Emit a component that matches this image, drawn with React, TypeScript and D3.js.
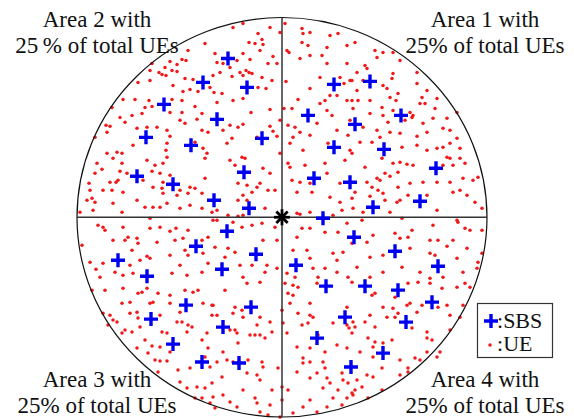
import * as d3 from "d3";

// chart box and cell extent (units, centre = 0,0)
const width = 574;
const height = 419;
const X_EXTENT = 205;
const Y_EXTENT = 200;

// small base stations, one list per area
const sbsArea1: [number, number][] = [
  [52, 133], [88, 136], [26, 102], [119, 102], [73, 93], [52, 70], [102, 68],
  [154, 49], [32, 39], [68, 35], [138, 16], [91, 10], [41, -1],
];
const sbsArea2: [number, number][] = [
  [-54, 159], [-79, 135], [-35, 130], [-118, 113], [-65, 98], [-136, 80], [-20, 79],
  [-91, 72], [-145, 41], [-109, 33], [-38, 45], [-68, 17], [-33, 9],
];
const sbsArea3: [number, number][] = [
  [-86, -29], [-55, -14], [-164, -43], [-26, -37], [-60, -52], [-135, -59], [-96, -88],
  [-31, -90], [-131, -102], [-59, -110], [-109, -127], [-43, -146], [-80, -145],
];
const sbsArea4: [number, number][] = [
  [14, -48], [72, -20], [113, -34], [156, -49], [44, -69], [83, -69], [116, -73],
  [150, -85], [63, -100], [124, -105], [35, -121], [101, -136], [69, -150],
];

// user equipment, read region by region
const ueNW: [number, number][] = [
  [-77, 174], [-94, 167], [-112, 156], [-100, 158], [-96, 157], [-105, 153], [-130, 154],
  [-117, 150], [-110, 147], [-105, 146], [-132, 147], [-123, 145], [-120, 143], [-116, 142],
  [-97, 139], [-144, 135], [-132, 137], [-89, 138], [-109, 132], [-99, 126], [-92, 128],
  [-84, 126], [-72, 130], [-159, 118], [-147, 118], [-133, 117], [-110, 118], [-100, 117],
  [-87, 111], [-137, 110], [-130, 111], [-170, 110], [-140, 104], [-150, 102], [-112, 105],
  [-100, 105], [-80, 104], [-162, 100], [-157, 95], [-176, 92], [-172, 91], [-125, 90],
  [-102, 97], [-97, 94], [-85, 98], [-135, 90], [-175, 85], [-145, 89], [-115, 87],
  [-80, 87], [-74, 85], [-187, 80], [-112, 81],
];
const ueN: [number, number][] = [
  [-49, 190], [-39, 194], [-12, 190], [-2, 185], [-24, 184], [-33, 175], [-27, 174],
  [-20, 178], [-19, 173], [-39, 164], [-67, 164], [-45, 157], [-32, 158], [-22, 167],
  [-9, 161], [-14, 154], [-5, 154], [-65, 155], [-59, 154], [-52, 150], [-62, 145],
  [-69, 142], [-42, 145], [-36, 147], [-33, 145], [-30, 144], [-39, 142], [-50, 141],
  [-20, 140], [-10, 137], [-60, 124], [-68, 125], [-24, 130], [-16, 129], [-31, 105],
  [-12, 108], [-49, 117], [-39, 119], [-65, 115], [-52, 92], [-39, 93], [-44, 90],
  [-59, 87], [-12, 91], [-9, 86], [-25, 80], [-50, 79], [-2, 97], [-5, 81],
  [3, 194], [20, 189], [21, 184], [28, 185], [20, 175], [26, 172], [48, 182],
  [56, 184], [45, 170], [65, 172], [5, 167], [7, 165], [28, 162], [40, 162],
  [18, 159], [45, 154], [65, 154], [38, 140], [58, 140], [68, 137], [62, 134],
  [4, 136], [28, 129], [48, 122], [43, 117], [55, 122], [16, 118], [2, 109],
  [10, 109], [38, 114], [45, 107], [50, 102], [65, 117], [71, 109], [68, 97],
  [6, 92], [13, 90], [18, 85], [35, 94], [55, 87], [66, 82], [28, 82], [11, 80],
];
const ueNE: [number, number][] = [
  [73, 175], [93, 167], [101, 165], [111, 165], [95, 160], [118, 157], [83, 152],
  [85, 149], [75, 145], [111, 144], [135, 145], [70, 137], [81, 137], [110, 139],
  [101, 132], [135, 134], [116, 124], [145, 127], [105, 129], [75, 127], [70, 117],
  [108, 120], [114, 117], [140, 120], [155, 119], [100, 110], [138, 114], [143, 114],
  [153, 109], [128, 105], [131, 102], [101, 102], [88, 104], [111, 107], [123, 97],
  [130, 100], [151, 99], [165, 99], [175, 105], [106, 95], [141, 94], [161, 89],
  [168, 87], [81, 90], [95, 87], [108, 85], [118, 84], [135, 81], [145, 85],
  [98, 80], [175, 79], [76, 117], [88, 117],
];
const ueW: [number, number][] = [
  [-149, 72], [-115, 74], [-87, 75], [-79, 69], [-75, 64], [-77, 59], [-116, 67],
  [-115, 60], [-175, 64], [-165, 65], [-160, 64], [-169, 59], [-185, 54], [-160, 54],
  [-135, 57], [-127, 52], [-119, 54], [-180, 48], [-130, 46], [-122, 44], [-187, 44],
  [-162, 46], [-155, 44], [-172, 35], [-193, 34], [-166, 35], [-164, 37], [-139, 37],
  [-119, 35], [-112, 42], [-77, 39], [-92, 30], [-87, 29], [-102, 27], [-192, 27],
  [-179, 27], [-170, 27], [-159, 25], [-129, 30], [-120, 29], [-119, 24], [-105, 22],
  [-94, 24], [-80, 24], [-195, 17], [-187, 15], [-190, 19], [-169, 14], [-137, 10],
  [-129, 10], [-122, 10], [-115, 14], [-102, 9], [-92, 12], [-80, 9], [-202, 5],
  [-189, 7], [-160, 5], [-145, 17],
  [-184, -8], [-179, -10], [-132, -1], [-177, -13], [-159, -10], [-132, -11], [-122, -10],
  [-112, -14], [-106, -11], [-94, -13], [-154, -20], [-169, -23], [-157, -23], [-145, -21],
  [-144, -26], [-125, -25], [-107, -23], [-99, -21], [-80, -23], [-74, -20], [-200, -28],
  [-150, -33], [-135, -39], [-132, -41], [-142, -43], [-112, -38], [-97, -33], [-94, -38],
  [-79, -36], [-192, -45], [-179, -46], [-152, -48], [-102, -48], [-74, -46], [-167, -55],
  [-159, -58], [-149, -56], [-110, -56], [-186, -52], [-182, -60], [-95, -58], [-80, -55],
];
const ueC: [number, number][] = [
  [-55, 74], [-52, 57], [-47, 52], [-40, 60], [-37, 59], [-19, 49], [-12, 44],
  [-22, 34], [-25, 30], [-35, 32], [-30, 25], [-44, 34], [-44, 17], [-35, 17],
  [-7, 27], [-14, 27], [-39, 22], [-70, 5], [-65, 7], [-54, 2], [-44, 1],
  [-39, 2], [-17, 9], [-30, -8], [-40, -10], [-69, -3], [-65, -3], [-49, -5],
  [-20, -6], [-7, -10], [-67, -30], [-54, -31], [-57, -40], [-47, -35], [-42, -48],
  [-30, -48], [-15, -48], [-17, -55], [-5, -51], [-39, -60], [-5, -23], [-19, -23],
  [-2, 64], [0, 0],
  [8, 74], [21, 67], [6, 54], [8, 50], [23, 52], [43, 54], [46, 74],
  [63, 57], [68, 67], [10, 37], [18, 35], [28, 34], [45, 44], [58, 34],
  [15, 25], [30, 25], [48, 20], [58, 15], [15, 4], [18, 3], [28, 5],
  [60, 7], [51, 2], [65, -6], [20, -11], [28, -11], [43, -15], [56, -15],
  [15, -20], [11, -33], [25, -33], [28, -41], [51, -36], [55, -43], [61, -35],
  [31, -51], [43, -51], [55, -55], [66, -60], [36, -60], [13, -60], [5, -56],
];
const ueE: [number, number][] = [
  [78, 75], [90, 75], [120, 70], [135, 72], [155, 69], [161, 70], [168, 74],
  [178, 69], [70, 64], [100, 59], [111, 54], [118, 55], [125, 53], [131, 52],
  [145, 67], [165, 60], [168, 59], [178, 59], [183, 54], [171, 52], [161, 52],
  [83, 50], [103, 44], [95, 39], [98, 37], [108, 41], [116, 45], [141, 35],
  [155, 35], [168, 35], [181, 39], [191, 37], [196, 40], [73, 25], [85, 35],
  [90, 30], [128, 34], [116, 30], [96, 27], [101, 24], [103, 17], [108, 5],
  [115, 15], [118, 17], [88, 21], [126, 22], [145, 22], [171, 25], [178, 27],
  [185, 22], [193, 15], [155, 7], [200, 9], [81, 5], [71, 9], [70, 19],
  [80, -3], [120, -1], [175, -3], [176, -5], [183, -11], [188, -13], [200, -13],
  [151, -8], [130, -13], [91, -18], [113, -16], [118, -21], [126, -20], [148, -23],
  [156, -23], [171, -23], [165, -29], [185, -31], [200, -36], [85, -25], [70, -26],
  [88, -40], [101, -38], [128, -31], [148, -36], [153, -38], [175, -41], [181, -55],
  [195, -51], [196, -45], [120, -50], [101, -55], [75, -50], [88, -60], [138, -55],
  [161, -60], [148, -61],
];
const ueSW: [number, number][] = [
  [-190, -73], [-177, -73], [-159, -71], [-144, -76], [-140, -75], [-135, -71], [-124, -76],
  [-112, -78], [-97, -73], [-89, -75], [-84, -73], [-112, -86], [-79, -86], [-70, -88],
  [-160, -86], [-152, -85], [-132, -86], [-129, -85], [-102, -95], [-179, -96], [-172, -98],
  [-152, -96], [-144, -101], [-145, -95], [-169, -103], [-165, -105], [-174, -108], [-160, -116],
  [-157, -113], [-150, -115], [-142, -110], [-122, -98], [-105, -105], [-100, -105], [-94, -108],
  [-90, -110], [-120, -115], [-115, -116], [-95, -115], [-75, -116], [-137, -123], [-122, -130],
  [-130, -129], [-112, -135], [-80, -123], [-145, -131], [-134, -136], [-74, -131], [-77, -140],
  [-127, -143], [-122, -144], [-115, -144], [-104, -153], [-124, -155], [-72, -150], [-92, -151],
  [-102, -165], [-95, -171], [-85, -170], [-77, -171], [-70, -166], [-80, -181], [-72, -186],
  [-87, -181],
];
const ueS: [number, number][] = [
  [-57, -73], [-35, -66], [-22, -65], [-69, -88], [-47, -90], [-40, -93], [-49, -96],
  [-39, -100], [-22, -100], [-70, -98], [-65, -98], [-12, -105], [-25, -108], [-52, -113],
  [-47, -113], [-45, -116], [-32, -118], [-27, -118], [-22, -118], [-10, -115], [-17, -121],
  [1, -106], [-44, -126], [-59, -135], [-65, -145], [-55, -143], [-49, -145], [-34, -143],
  [-20, -145], [-19, -150], [-4, -151], [-35, -156], [-25, -158], [-22, -163], [-60, -160],
  [-69, -180], [-59, -178], [-39, -173], [-27, -181], [-10, -173], [-25, -186], [-12, -188],
  [-67, -191], [-45, -190], [-22, -195], [-14, -198], [0, -183], [0, -170], [-2, -200],
  [0, -93], [-52, -185],
  [3, -66], [11, -68], [16, -70], [35, -66], [6, -76], [11, -78], [8, -86],
  [28, -86], [65, -90], [16, -96], [28, -98], [31, -100], [20, -108], [26, -106],
  [51, -106], [65, -108], [67, -111], [5, -116], [36, -118], [15, -130], [28, -131],
  [55, -128], [43, -135], [65, -131], [21, -141], [21, -146], [28, -145], [41, -145],
  [43, -151], [15, -155], [35, -156], [60, -156], [61, -163], [66, -166], [28, -161],
  [45, -161], [48, -166], [41, -171], [51, -181], [45, -190], [60, -188], [28, -183],
  [6, -173], [21, -190], [11, -196], [35, -195], [65, -181], [71, -178], [56, -173],
];
const ueSE: [number, number][] = [
  [70, -65], [90, -78], [93, -76], [113, -80], [126, -66], [136, -65], [148, -66],
  [160, -71], [175, -70], [183, -66], [188, -70], [125, -88], [128, -86], [135, -95],
  [140, -88], [156, -90], [165, -88], [168, -98], [181, -88], [178, -100], [101, -90],
  [111, -91], [116, -96], [105, -100], [113, -100], [88, -98], [83, -105], [71, -105],
  [73, -110], [70, -116], [93, -110], [130, -111], [145, -115], [145, -121], [150, -123],
  [168, -113], [158, -135], [155, -140], [86, -121], [93, -125], [91, -130], [101, -126],
  [110, -123], [78, -135], [91, -140], [100, -151], [118, -143], [126, -151], [133, -141],
  [138, -143], [145, -135], [118, -158], [126, -155], [85, -158], [91, -160], [75, -163],
  [80, -170], [70, -176], [73, -173], [100, -173], [86, -181],
];

const areaLabels = [
  { line1: "Area 1 with", line2: "25% of total UEs", cx: 485, top: true },
  { line1: "Area 2 with", line2: "25\u2009% of total UEs", cx: 97, top: true },
  { line1: "Area 3 with", line2: "25% of total UEs", cx: 97, top: false },
  { line1: "Area 4 with", line2: "25% of total UEs", cx: 485, top: false },
];

const legendItems = ["SBS", "UE"];

const SBS_COLOR = "#0000f0";
const UE_COLOR = "#f01818";
const FONT = "'Liberation Serif', 'Times New Roman', serif";

export default function App() {
  const x = d3.scaleLinear().domain([-X_EXTENT, X_EXTENT]).range([77, 487]);
  const y = d3.scaleLinear().domain([-Y_EXTENT, Y_EXTENT]).range([417, 17.5]);

  const ues = [...ueNW, ...ueN, ...ueNE, ...ueW, ...ueC, ...ueE, ...ueSW, ...ueS, ...ueSE];
  const sbs = [...sbsArea1, ...sbsArea2, ...sbsArea3, ...sbsArea4];

  const cross = "M-7,0H7M0,-7V7";
  const starArms = [0, 45, 90, 135];

  return (
    <svg
      width={width}
      height={height}
      style={{ position: "absolute", left: 0, top: 0, background: "#fff" }}
      fontFamily={FONT}
    >
      <rect width={width} height={height} fill="#fff" />

      {/* UEs */}
      <g fill={UE_COLOR}>
        {ues.map((d, i) => (
          <circle key={i} cx={x(d[0])} cy={y(d[1])} r={1.75} />
        ))}
      </g>

      {/* cell edge and area split */}
      <ellipse
        cx={x(0)}
        cy={y(0)}
        rx={x(X_EXTENT) - x(0)}
        ry={y(0) - y(Y_EXTENT)}
        fill="none"
        stroke="#111"
        strokeWidth={1.2}
      />
      <line x1={x(-X_EXTENT)} x2={x(X_EXTENT)} y1={y(0)} y2={y(0)} stroke="#333" strokeWidth={1.5} />
      <line x1={x(0)} x2={x(0)} y1={y(Y_EXTENT)} y2={y(-Y_EXTENT)} stroke="#333" strokeWidth={1.5} />

      {/* SBSs */}
      <g stroke={SBS_COLOR} strokeWidth={3.4} fill="none">
        {sbs.map((d, i) => (
          <path key={i} d={cross} transform={`translate(${x(d[0])},${y(d[1])})`} />
        ))}
      </g>

      {/* macro BS */}
      <g transform={`translate(${x(0)},${y(0)})`} stroke="#000" strokeWidth={2.8}>
        {starArms.map((a) => (
          <line key={a} x1={-8} x2={8} y1={0} y2={0} transform={`rotate(${a})`} />
        ))}
      </g>

      {/* area labels */}
      {areaLabels.map((l, i) => (
        <text key={i} textAnchor="middle" fontSize={23} fill="#111">
          <tspan x={l.cx} y={l.top ? 27 : 387}>{l.line1}</tspan>
          <tspan x={l.cx} y={l.top ? 53 : 413}>{l.line2}</tspan>
        </text>
      ))}

      {/* legend */}
      <g>
        <rect x={477.5} y={303.5} width={75} height={54} fill="#fff" stroke="#333" strokeWidth={1.2} />
        <path d={cross} transform="translate(491,321)" stroke={SBS_COLOR} strokeWidth={3.4} />
        <circle cx={490} cy={345} r={1.75} fill={UE_COLOR} />
        {legendItems.map((t, i) => (
          <text key={t} x={497} y={328 + i * 23} fontSize={22} fill="#111">
            :{t}
          </text>
        ))}
      </g>
    </svg>
  );
}
